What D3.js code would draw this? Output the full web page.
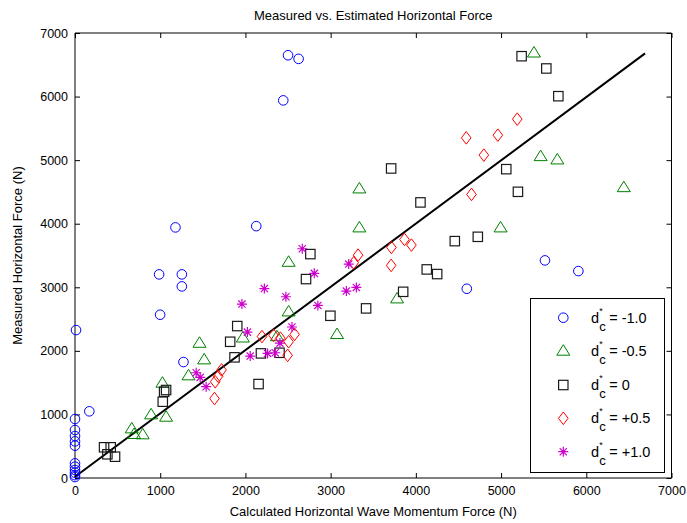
<!DOCTYPE html>
<html><head><meta charset="utf-8">
<script src="https://cdn.jsdelivr.net/npm/d3@7"></script>
<style>body{margin:0;background:#fff}svg{display:block}text{font-family:"Liberation Sans",Arial,sans-serif;fill:#000}</style>
</head><body><div id="chart"></div>
<script>
// data: [calculated, measured]
const seriesNeg10 = [[2500,6650],[2624,6593],[2444,5940],[1179,3942],[2127,3962],[987,3203],[1254,3203],[1254,3014],[999,2568],[12,2327],[1273,1824],[168,1049],[5515,3423],[4598,2977],[5907,3255],[0,928],[0,755],[0,660],[0,577],[0,508],[0,231],[0,178],[0,126],[0,83],[0,45],[0,15]];
const seriesNeg05 = [[5386,6693],[5464,5063],[5660,5011],[6440,4575],[3337,4555],[3337,3942],[4994,3942],[3780,2825],[3075,2264],[2507,3401],[2507,2620],[1970,2210],[1461,2127],[1516,1866],[1332,1615],[2370,2230],[1026,1499],[1069,964],[893,1001],[666,781],[693,692],[795,687]];
const series0 = [[5241,6635],[5531,6442],[5672,6006],[3710,4869],[5061,4858],[5198,4502],[4054,4335],[4457,3726],[4727,3794],[4128,3281],[4250,3208],[3851,2929],[2762,3522],[2711,3129],[3416,2668],[2997,2552],[1904,2390],[1821,2143],[1872,1898],[2182,1960],[2400,1970],[2154,1478],[1046,1357],[1069,1384],[1030,1200],[341,483],[419,483],[380,373],[470,335]];
const seriesPos05 = [[5190,5645],[4591,5351],[4962,5393],[4798,5079],[4653,4461],[3866,3753],[3948,3664],[3713,3627],[3710,3344],[3322,3506],[3270,3385],[2194,2225],[2330,2245],[2507,2143],[2577,2260],[2495,1930],[2410,2200],[1720,1700],[1680,1600],[1645,1514],[1637,1250]];
const seriesPos10 = [[2667,3606],[2808,3219],[2222,2980],[2475,2851],[1959,2736],[2850,2715],[2023,2295],[2546,2375],[2405,2122],[2056,1918],[2260,1960],[2350,1970],[1422,1656],[1469,1583],[1539,1436],[3212,3365],[3184,2940],[3302,2998]];
const fitLine = [[0,20],[6690,6680]];
const legendLabels = ["= -1.0","= -0.5","= 0","= +0.5","= +1.0"];
const xTicks = [0,1000,2000,3000,4000,5000,6000,7000];
const yTicks = [0,1000,2000,3000,4000,5000,6000,7000];
const titleText = "Measured vs. Estimated Horizontal Force";
const xLabel = "Calculated Horizontal Wave Momentum Force (N)";
const yLabel = "Measured Horizontal Force (N)";

const W=687,H=523;
const L=75,R=671.5,T=33,B=478;
const svg=d3.select("#chart").append("svg").attr("width",W).attr("height",H);
const x=d3.scaleLinear().domain([0,7000]).range([L,R]);
const y=d3.scaleLinear().domain([0,7000]).range([B,T]);

// axes box
svg.append("rect").attr("x",L).attr("y",T).attr("width",R-L).attr("height",B-T).attr("fill","#fff").attr("stroke","none");

const fs=12.5;
const gx=svg.append("g").attr("transform",`translate(0,${B})`).call(d3.axisBottom(x).tickValues(xTicks).tickSize(-5).tickPadding(8).tickFormat(d3.format("d")));
const gy=svg.append("g").attr("transform",`translate(${L},0)`).call(d3.axisLeft(y).tickValues(yTicks).tickSize(-5).tickPadding(7).tickFormat(d3.format("d")));
const gxt=svg.append("g").attr("transform",`translate(0,${T})`).call(d3.axisTop(x).tickValues(xTicks).tickSize(-5).tickFormat(""));
const gyr=svg.append("g").attr("transform",`translate(${R},0)`).call(d3.axisRight(y).tickValues(yTicks).tickSize(-5).tickFormat(""));
[gx,gy,gxt,gyr].forEach(g=>{g.select(".domain").attr("stroke","#000");g.selectAll(".tick line").attr("stroke","#000");g.selectAll("text").attr("font-size",fs).attr("font-family","Liberation Sans, Arial, sans-serif").attr("fill","#000");});
gx.select(".domain").attr("d",`M${L},0H${R}`);
gxt.select(".domain").attr("d",`M${L},0H${R}`);
gy.select(".domain").attr("d",`M0,${B}V${T}`);
gyr.select(".domain").attr("d",`M0,${B}V${T}`);

const line=d3.line().x(d=>x(d[0])).y(d=>y(d[1]));
svg.append("path").datum(fitLine).attr("d",line).attr("stroke","#000").attr("stroke-width",2).attr("fill","none");

function marker(g,type,color){
  if(type==="circle") g.append("circle").attr("r",4.8).attr("fill","none").attr("stroke",color).attr("stroke-width",1);
  else if(type==="triangle") g.append("path").attr("d","M0,-6L6.5,4.5L-6.5,4.5Z").attr("fill","none").attr("stroke",color).attr("stroke-width",1);
  else if(type==="square") g.append("rect").attr("x",-4.7).attr("y",-4.7).attr("width",9.4).attr("height",9.4).attr("fill","none").attr("stroke",color).attr("stroke-width",1.2);
  else if(type==="diamond") g.append("path").attr("d","M0,-6.3L4.8,0L0,6.3L-4.8,0Z").attr("fill","none").attr("stroke",color).attr("stroke-width",1);
  else if(type==="star") g.append("path").attr("d","M-5,0H5M0,-5V5M-3.6,-3.6L3.6,3.6M-3.6,3.6L3.6,-3.6").attr("fill","none").attr("stroke",color).attr("stroke-width",1.2);
}
const groups=[
  {data:seriesNeg10,type:"circle",color:"#0000ff"},
  {data:seriesNeg05,type:"triangle",color:"#008000"},
  {data:series0,type:"square",color:"#1a1a1a"},
  {data:seriesPos05,type:"diamond",color:"#ff0000"},
  {data:seriesPos10,type:"star",color:"#cc00cc"}
];
groups.forEach(s=>{
  s.data.forEach(d=>{
    const g=svg.append("g").attr("transform",`translate(${x(d[0])},${y(d[1])})`);
    marker(g,s.type,s.color);
  });
});

// legend
const lg=svg.append("g");
lg.append("rect").attr("x",530.5).attr("y",298.5).attr("width",134).attr("height",174).attr("fill","#fff").attr("stroke","#000").attr("stroke-width",1);
const rowY=[317.7,350.7,385,418.3,451.7];
groups.forEach((s,i)=>{
  const g=lg.append("g").attr("transform",`translate(563.3,${rowY[i]})`);
  marker(g,s.type,s.color);
  const t=lg.append("text").attr("x",591).attr("y",rowY[i]+5).attr("font-size",14.5);
  t.append("tspan").text("d");
  const dx=8.2;
  lg.append("text").attr("x",591+dx).attr("y",rowY[i]-4).attr("font-size",9).text("*");
  lg.append("text").attr("x",591+dx).attr("y",rowY[i]+13).attr("font-size",13).text("c");
  lg.append("text").attr("x",591+dx+10).attr("y",rowY[i]+5).attr("font-size",14.5).text(" "+legendLabels[i]);
});

svg.append("text").attr("x",(L+R)/2).attr("y",20).attr("text-anchor","middle").attr("font-size",13).text(titleText);
svg.append("text").attr("x",(L+R)/2).attr("y",516).attr("text-anchor","middle").attr("font-size",13).text(xLabel);
svg.append("text").attr("transform",`translate(22,${(T+B)/2}) rotate(-90)`).attr("text-anchor","middle").attr("font-size",13).text(yLabel);
</script></body></html>
